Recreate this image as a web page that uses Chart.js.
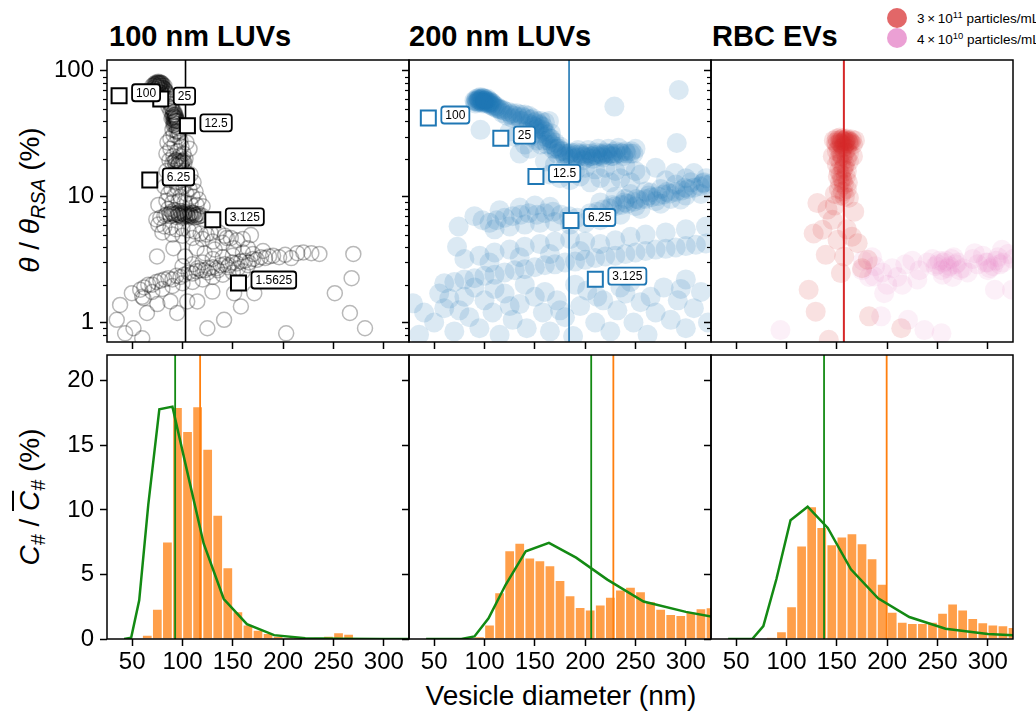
<!DOCTYPE html>
<html>
<head>
<meta charset="utf-8">
<title>Vesicle coverage and size distributions</title>
<script src="https://cdn.jsdelivr.net/npm/chart.js@4.4.1/dist/chart.umd.min.js"></script>
<style>
  body { margin: 0; background: #fff; }
  #fig { position: relative; width: 1036px; height: 712px; overflow: hidden; background: #fff;
         font-family: "Liberation Sans", Arial, Helvetica, sans-serif; color: #000; }
  #fig canvas { position: absolute; }
  .title { position: absolute; top: 22px; font-size: 29px; line-height: 29px; font-weight: bold; white-space: nowrap; }
  .ylab { position: absolute; font-size: 28px; line-height: 28px; white-space: nowrap;
          transform: translate(-50%, -50%) rotate(-90deg); }
  .ylab sub { font-size: 70%; position: relative; top: 0.3em; vertical-align: baseline; }
  #xlab { position: absolute; left: 561px; top: 682px; transform: translateX(-50%);
          font-size: 28px; line-height: 28px; white-space: nowrap; }
  .dot { position: absolute; width: 20px; height: 20px; border-radius: 50%; }
  .legtext { position: absolute; left: 917px; font-size: 13.5px; line-height: 14px; white-space: nowrap; }
  .legtext sup { font-size: 70%; position: relative; top: -0.55em; vertical-align: baseline; }
</style>
</head>
<body>
<div id="fig">
  <div class="title" style="left:109px">100 nm LUVs</div>
  <div class="title" style="left:409px">200 nm LUVs</div>
  <div class="title" style="left:712px">RBC EVs</div>

  <div class="ylab" style="left:31px; top:200px"><i>θ</i> / <i>θ</i><sub><i>RSA</i></sub> (%)</div>
  <div class="ylab" style="left:31px; top:497px"><i>C</i><sub><i>#</i></sub> / <i style="text-decoration:overline">C</i><sub><i>#</i></sub> (%)</div>
  <div id="xlab">Vesicle diameter (nm)</div>

  <div class="dot" style="left:887px; top:8px; background:rgba(214,39,40,0.7)"></div>
  <div class="dot" style="left:887px; top:28px; background:rgba(227,119,194,0.7)"></div>
  <div class="legtext" style="top:12px">3&thinsp;×&thinsp;10<sup>11</sup> particles/mL</div>
  <div class="legtext" style="top:33px">4&thinsp;×&thinsp;10<sup>10</sup> particles/mL</div>
</div>

<script>
const FONT = '"Liberation Sans", Arial, Helvetica, sans-serif';

// axes
const xMin = 25, xMax = 325;
const xTicks = [50, 100, 150, 200, 250, 300];
const coverMin = 0.7, coverMax = 122;
const coverTicks = [1, 10, 100];
const coverMinor = [0.8, 0.9, 2, 3, 4, 5, 6, 7, 8, 9, 20, 30, 40, 50, 60, 70, 80, 90];
const countMin = 0, countMax = 22;
const countTicks = [0, 5, 10, 15, 20];

// coverage (top row): [diameter nm, theta/theta_RSA %]
const luv100Pts = [
  [70,76],[72,79],[74,81],[76,82],[78,81],[80,79],[82,76],[71,73],[73,75],[75,77],[77,78],[79,76],[81,73],
  [74,72],[76,74],[78,73],[80,70],[83,70],[76,69],[79,67],[84,66],[81,64],[86,63],[73,78],[75,80],[77,80],[79,80],
  [72,77],[74,79],[76,80],[78,79],[80,77],[75,75],[77,76],[79,74],[73,71],[78,71],[82,72],[84,68],[86,65],
  [85,60],[87,57],[89,54],[86,52],[90,50],[88,48],[92,47],[90,45],[93,43],[89,42],[94,41],[91,39],[95,38],
  [92,37],[96,35],[90,34],[94,33],[97,32],[91,31],[95,30],[88,29],[98,28],[91,44],[93,45],[92,42],[94,40],[93,38],
  [92,43],[91,41],[93,40],[90,43],[88,60],[87,55],[89,51],[91,47],[92,45],[93,44],[94,42],[95,40],[92,40],
  [91,37],[94,36],[96,33],
  [85,27],[92,26],[99,25],[104,27],[88,24],[95,23],[101,22],[107,24],[84,22],[91,21],[97,21],[103,20],
  [87,19.5],[94,19.5],[100,19],[90,18.5],[96,18],[93,18],[98,19],[102,18.5],[95,17.5],[99,17.5],[92,19],
  [93,19.5],[96,19],[99,18.5],[101,19.5],[97,18.5],
  [84,16],[90,15],[96,15.5],[102,16],[108,15],[87,13.5],[93,13],[99,13.5],[105,14],[111,13],[82,12],[89,11.5],
  [95,11.8],[101,12],[107,11.5],[113,11],[86,10.5],[92,10.2],[98,10],[104,10.5],[110,10],[116,9.5],[84,9.3],
  [90,9],[96,9.2],[102,9],[108,8.8],[114,8.6],[120,8.4],[76,8.6],
  [74,6.6],[78,6.8],[82,7],[86,8],[89,7.6],[92,7.8],[95,7.4],[98,7.7],[101,7.3],[104,7.6],[107,7.2],[110,7.5],
  [113,7.1],[116,7.3],[88,7],[94,6.9],[100,6.8],[106,6.9],[112,6.8],[91,7.2],[97,7.1],[103,7],[109,7],[115,6.9],
  [119,7.1],[96,7.5],[102,7.2],[99,7],[105,7.3],[108,7.4],[111,7.2],
  [90,7.4],[93,7.3],[96,7.2],[99,7.4],[102,7.5],[105,7.1],[108,7.1],[111,7.4],[114,7.2],[117,7.0],[87,7.3],[84,7.2],
  [76,6],[82,5.8],[88,5.7],[94,5.5],[100,5.6],[106,5.4],[112,5.3],[118,5.1],[124,5],[128,5.15],[136,5.2],
  [142,4.9],[148,4.7],[154,4.5],[80,5.2],[90,5],[100,4.9],[110,4.7],[120,4.6],[130,4.4],[140,4.3],[160,4.6],
  [168,4.95],[144,4.7],[151,3.9],[122,3.55],[74.7,3.35],[91,3.9],[102.6,3.35],[114,3.9],[132,3.8],[165,3.9],
  [58,1.82],[62,1.9],[66,2.0],[70,2.0],[74,2.1],[78,2.15],[82,2.2],[86,2.25],[90,2.2],[94,2.35],[98,2.3],
  [102,2.4],[106,2.5],[110,2.45],[114,2.55],[118,2.6],[122,2.6],[126,2.7],[130,2.75],[134,2.7],[138,2.85],
  [142,2.9],[146,2.85],[150,3.0],[154,2.95],[158,3.05],[162,3.1],[166,3.0],[170,3.2],[174,3.15],[178,3.3],
  [182,3.25],[186,3.35],[190,3.4],[196,3.3],[202,3.45],[208,3.25],[214,3.56],[220,3.6],[228,3.56],[236,3.51],
  [60,1.6],[70,1.75],[80,1.85],[90,1.95],[100,2.05],[110,2.1],[120,2.2],[130,2.3],[140,2.4],[150,2.5],[160,2.55],
  [100,2.8],[110,2.9],[120,3.0],[130,3.2],[140,3.3],[150,3.4],[160,3.6],[170,3.5],[180,3.7],
  [115,2.7],[125,2.5],[135,2.6],[145,2.75],[155,2.7],[165,2.85],
  [38,1.38],[34.7,1.05],[43,0.82],[51.3,0.9],[64.7,1.19],[49.7,1.71],[61.3,1.56],[94.7,1.19],[88,1.47],
  [104.7,1.47],[114.7,1.47],[124.7,0.9],[129.7,1.76],[141.3,1.05],[158,1.34],[151.3,1.71],[171.3,1.71],
  [203,0.82],[251.3,1.71],[268,2.25],[269.7,3.51],[266.3,1.19],[281.3,0.9],[75,1.4],[60,0.75]
];

const luv200Pts = [
  [90,58],[92,60],[94,61],[96,62],[98,61],[100,60],[102,59],[104,58],[106,57],[91,55],[93,56],[95,57],[97,56],
  [99,55],[101,56],[103,55],[105,54],[107,53],[109,52],[111,51],[95,59],[100,58],[97,59],[102,57],[108,55],[113,50],
  [92,58],[94,59],[96,58],[98,57],[100,56],[93,57],[97,60],[99,58],[104,56],[106,55],
  [91,57],[95,60],[99,61],[103,60],[101,58],[105,56],[107,56],[110,53],[112,52],[115,50],[118,49],
  [116,49],[120,48],[124,47],[128,46],[132,46],[136,45],[140,45],[144,44],[148,42],[152,40],[156,40],[160,39],
  [164,40],[118,46],[122,44],[128,42],[136,40],[144,38],[150,36],[158,36],[126,45],[134,43],[142,42],[154,38],
  [130,44],[138,43],[146,41],[150,39],[155,37],
  [150,34],[155,32],[160,30],[158,28],[165,29],[162,26],[170,27],[168,24],[175,25],[172,22],[178,23],[182,22],
  [140,33],[146,30],[152,28],[160,33],[166,32],[156,26],[163,28],[167,26],[171,24],[176,23],
  [158,34],[162,31],[166,29],[170,25],[174,24],[178,22],[148,37],[153,35],
  [180,21],[185,22],[190,21.5],[195,22],[200,21],[205,22],[210,21.5],[215,22],[220,22.5],[225,22],[230,23],
  [235,22.5],[240,23],[245,22],[188,20],[198,19.5],[208,20],[218,20.5],[228,21],[238,21],[250,24],[193,23.5],
  [203,23.5],[213,24],[223,24],[233,24.5],[183,21],[187,21],[192,20.5],[197,21],[202,20.5],[207,21],[212,21],
  [217,21.5],[222,21.5],[227,22],[186,22.5],[191,22.5],[196,21.5],[201,22],[206,21],[211,22.5],[216,21],
  [221,22],[226,21],[231,22],[236,22],[241,22],[246,23],[248,22],
  [160,19],[170,18],[180,17],[190,16],[200,17],[210,16.5],[220,17],[230,16],[240,17.5],[250,16],[165,15],
  [175,14],[185,13.5],[195,14.5],[205,13],[215,14],[225,13],[235,14],[245,13],[255,15],[135,22],[140,26],
  [145,24],[130,30],[125,33],[289,15.4],[308,15.4],[270,17],[280,13.5],[300,14],[318,13],
  [205,7.4],[212,7.6],[218,7.9],[224,8.1],[230,8.4],[236,8.6],[242,8.8],[248,9.1],[254,9.4],[260,9.6],[266,9.9],
  [272,10.1],[278,10.4],[284,10.6],[290,10.9],[296,11.2],[302,11.5],[308,11.8],[314,12.1],[320,12.4],[326,12.8],
  [215,9],[230,10],[245,10.5],[260,11],[275,11.5],[290,12.5],[305,13],[320,14],[215,6.5],[235,7.2],[255,8],
  [275,8.8],[295,9.5],[315,10.5],[250,8.4],[270,9.2],[285,9.6],[300,10.2],[240,9.6],[265,10.8],
  [227,8.6],[239,9.0],[251,9.6],[263,10.2],[281,10.9],[299,11.8],[317,12.8],
  [105,6.2],[112,6.5],[120,6.8],[128,7],[136,7.2],[144,7.4],[152,7.2],[160,7.4],[168,7.6],[176,7.2],[184,7.0],
  [192,6.8],[110,5.5],[125,5.8],[140,6],[155,6.2],[170,6.3],[185,6],[115,7.8],[135,8.2],[150,8.5],[165,8.3],
  [74.3,5.8],[72.7,4.0],[96,34],[90,7],[98,6.5],[200,6.2],
  [60,2.05],[70,2.1],[80,2.2],[90,2.25],[100,2.35],[110,2.4],[120,2.5],[130,2.6],[140,2.65],[150,2.75],
  [160,2.85],[170,2.9],[180,3.0],[190,3.05],[200,3.15],[210,3.25],[220,3.35],[230,3.4],[240,3.5],[250,3.6],
  [260,3.7],[270,3.8],[280,3.85],[290,3.95],[300,4.05],[310,4.15],[320,4.25],
  [80,3.2],[95,3.4],[110,3.6],[125,3.8],[140,4.0],[155,4.2],[170,4.4],[185,4.6],[200,4.4],[215,4.2],[230,4.5],
  [245,4.8],[260,5],[280,5.2],[300,5.5],[320,5.8],[105,3.0],[135,3.3],[165,3.5],[195,3.7],
  [29,1.42],[35,0.8],[50,1.0],[60,1.3],[70,0.85],[80,1.6],[85,1.1],[95,0.9],[100,1.5],[108,1.2],[115,0.8],
  [120,1.7],[128,1.05],[135,1.4],[142,0.9],[150,1.6],[158,1.2],[165,0.85],[172,1.5],[180,1.1],[188,0.78],
  [195,1.35],[202,1.8],[210,1.0],[218,1.5],[225,0.85],[232,1.25],[240,1.7],[248,1.0],[255,1.45],[262,0.8],
  [270,1.2],[278,1.9],[285,1.05],[292,1.5],[300,0.9],[308,1.3],[315,1.75],[322,1.0],[90,1.9],[140,2.0],
  [190,2.0],[245,2.1],[300,2.2],[40,1.2],[55,1.7],[65,1.55],[75,1.25],[110,1.85],[125,1.35],[160,1.75],
  [175,1.25],[212,1.6],[235,1.9],[265,1.6],[295,1.85],
  [293,70.5],[229,52],[291,26.7]
];

const rbcHighPts = [
  [147,28],[150,29],[153,29.5],[156,29],[159,28.5],[162,28],[165,28.5],[168,28],[150,26],[154,26.5],[158,26],
  [162,26.5],[166,26],[152,24],[156,24.5],[160,24],[149,27],[164,27],[157,27.5],[161,27.5],[155,28],[159,27],[153,27],
  [151,28],[154,28.5],[158,28],[160,29],[163,27.5],[155,26],[157,25],
  [150,23],[154,22],[158,22.5],[162,22],[152,20],[156,20.5],[160,20],[150,18],[154,18.5],[158,18],[162,19],
  [152,16],[156,16.5],[160,16],[151,14.5],[155,14],[159,14.5],[153,13],[157,12.5],[161,13],[152,11.5],[156,11],
  [160,11.5],[154,10.2],[158,10],[148,10.5],[162,9.8],[146,21],[166,21],[155,21],[157,17],[154,15],[156,13.5],
  [130.7,8.9],[140.7,7.9],[167.3,7.6],[145.7,6.55],[135.7,5.46],[127,5.1],[150.7,4.54],[170.7,4.27],[139,3.45],
  [157.3,3.35],[180.7,3.15],[154,2.47],[122,1.82],[129,1.22],[182,1.12],[214,0.9],[160,5.5],[165,4.8],[148,8.5],
  [175,2.7],[142,0.73]
];

const rbcLowPts = [
  [175,2.6],[182,2.3],[187,2.32],[188,2.8],[195,2.5],[197,1.71],[200,2.0],[205,2.7],[210,2.3],[218,2.9],[225,3.1],
  [232,2.6],[240,3.0],[245,3.2],[248,2.8],[250,2.9],[252,3.1],[254,2.6],[256,3.0],[258,3.1],[260,2.7],[262,2.8],
  [264,3.2],[266,3.3],[268,2.9],[270,3.0],[272,2.6],[275,2.7],[280,2.5],[285,3.2],[287,3.56],[290,2.9],[295,3.4],
  [298,3.0],[300,3.0],[302,2.7],[305,2.8],[308,3.1],[310,3.3],[312,2.9],[314,3.78],[315,3.0],[320,3.5],[325,3.2],
  [255,2.4],[265,2.3],[300,2.6],[307,1.82],[324,1.82],[194,1.12],[220.7,1.05],[237,0.87],[254,0.82],[94,0.87],
  [176,3.1],[185,3.3],[215,2.0],[230,2.2]
];

// dilution markers
const luv100MarkX = [37, 78.4, 104.9, 67.5, 130.1, 155.6];
const luv100MarkY = [63.4, 59.7, 36.6, 13.6, 6.55, 2.06];
const luv100MarkLabels = ['100', '25', '12.5', '6.25', '3.125', '1.5625'];
const luv200MarkX = [44.2, 116.2, 151.1, 185.9, 210.1];
const luv200MarkY = [42.2, 29.2, 14.5, 6.47, 2.21];
const luv200MarkLabels = ['100', '25', '12.5', '6.25', '3.125'];

// mean diameters
const coverLineX = [103, 184, 157];
const fitLineX = [92.7, 206, 137.3];
const histLineX = [117.5, 228, 199.5];

// size distributions (bottom row)
const binCenters = [35, 45, 55, 65, 75, 85, 95, 105, 115, 125, 135, 145, 155, 165, 175, 185, 195, 205,
                    215, 225, 235, 245, 255, 265, 275, 285, 295, 305, 315, 325];
const luv100Hist = [0, 0, 0, 0.31, 2.31, 7.52, 17.95, 16.08, 18.0, 14.71, 9.6, 5.53, 2.13, 1.09, 0.7, 0.44,
                    0.23, 0.1, 0.05, 0.03, 0.1, 0.23, 0.5, 0.39, 0, 0, 0, 0, 0, 0];
const luv200Hist = [0, 0, 0, 0, 0, 0, 0.18, 1.09, 3.6, 6.85, 7.44, 6.28, 6.07, 5.68, 4.54, 3.37, 2.46, 2.26,
                    2.65, 3.24, 3.81, 4.02, 3.68, 2.9, 2.31, 1.92, 1.84, 2.08, 2.36, 2.44];
const rbcHist = [0, 0, 0, 0, 0, 0.1, 0.57, 2.52, 7.21, 10.25, 8.66, 7.32, 7.91, 8.17, 7.39, 6.23, 4.25, 2.08,
                 1.32, 1.22, 1.22, 1.32, 2.0, 2.72, 2.26, 1.61, 1.27, 1.09, 1.04, 0.91];

const fitX = [42, 49, 57, 66, 77, 90, 104, 121, 141, 164, 191, 222, 258, 300, 349];
const luv100Fit = [0, 0.1, 3.0, 10.4, 17.8, 18.0, 13.2, 7.4, 3.1, 1.15, 0.3, 0.06, 0.01, 0, 0];
const luv200Fit = [0, 0, 0, 0, 0, 0.2, 1.6, 4.2, 6.8, 7.45, 6.3, 4.6, 2.9, 2.1, 1.4];
const rbcFit = [0, 0, 0, 0, 1.0, 4.65, 9.2, 10.25, 8.6, 5.4, 3.15, 1.7, 0.8, 0.38, 0.2];

const BLACK = '#000000';
const BLUE = '#1f77b4';
const RED = '#d62728';
const GREEN = '#138a13';
const ORANGE = '#ff7f0e';
const BAR = 'rgba(255,127,14,0.75)';

// panel geometry
const panelLeft = [107, 409, 711];
const panelW = 302;
const axisW = 75;
const padTop = 4, padRight = 6;

const toXY = (pts) => pts.map(([x, y]) => ({ x, y }));
const zip = (xs, ys) => xs.map((x, i) => ({ x, y: ys[i] }));

const fig = document.getElementById('fig');

function addCanvas(col, top, h, axisH) {
  const c = document.createElement('canvas');
  c.width = axisW + panelW + padRight;
  c.height = padTop + h + axisH;
  c.style.left = (panelLeft[col] - axisW) + 'px';
  c.style.top = (top - padTop) + 'px';
  fig.appendChild(c);
  return c.getContext('2d');
}

function roundRect(ctx, x, y, w, h, r) {
  ctx.beginPath();
  ctx.moveTo(x + r, y);
  ctx.arcTo(x + w, y, x + w, y + h, r);
  ctx.arcTo(x + w, y + h, x, y + h, r);
  ctx.arcTo(x, y + h, x, y, r);
  ctx.arcTo(x, y, x + w, y, r);
  ctx.closePath();
}

// box frame round the plot area
const framePlugin = {
  id: 'frame',
  afterDraw(chart) {
    const { ctx, chartArea: a } = chart;
    ctx.save();
    ctx.lineWidth = 1.5;
    ctx.strokeStyle = '#000';
    ctx.strokeRect(a.left, a.top, a.right - a.left, a.bottom - a.top);
    ctx.restore();
  }
};

// short unlabelled ticks on the log axis
const minorTicksPlugin = {
  id: 'minorTicks',
  afterDraw(chart) {
    const { ctx, chartArea: a } = chart;
    const y = chart.scales.y;
    ctx.save();
    ctx.lineWidth = 1.2;
    ctx.strokeStyle = '#000';
    coverMinor.forEach((v) => {
      const py = Math.round(y.getPixelForValue(v)) + 0.5;
      ctx.beginPath();
      ctx.moveTo(a.left, py);
      ctx.lineTo(a.left - 4, py);
      ctx.stroke();
    });
    ctx.restore();
  }
};

// boxed text next to each dilution marker
const boxLabelPlugin = {
  id: 'boxLabels',
  afterDatasetsDraw(chart) {
    const ctx = chart.ctx;
    chart.data.datasets.forEach((ds, i) => {
      if (!ds.boxLabels) return;
      const meta = chart.getDatasetMeta(i);
      ctx.save();
      ctx.font = '12px ' + FONT;
      ctx.textBaseline = 'middle';
      meta.data.forEach((pt, j) => {
        const text = ds.boxLabels[j];
        const w = ctx.measureText(text).width + 8;
        const h = 17;
        const x0 = pt.x + 13;
        const y0 = pt.y - 3 - h / 2;
        roundRect(ctx, x0, y0, w, h, 3);
        ctx.fillStyle = '#fff';
        ctx.fill();
        ctx.lineWidth = 1.8;
        ctx.strokeStyle = ds.borderColor;
        ctx.stroke();
        ctx.fillStyle = '#000';
        ctx.fillText(text, x0 + 4, y0 + h / 2 + 0.5);
      });
      ctx.restore();
    });
  }
};

const tickFont = { size: 24, family: FONT };

function gridOpts() {
  return { display: true, drawOnChartArea: false, drawTicks: true, tickLength: 7,
           tickColor: '#000', tickWidth: 1.5, offset: false };
}

function xScale(showLabels, axisH) {
  return {
    type: 'linear', min: xMin, max: xMax, offset: false,
    afterBuildTicks: (s) => { s.ticks = xTicks.map((v) => ({ value: v })); },
    afterFit: (s) => { s.height = axisH; s.paddingLeft = 0; s.paddingRight = 0; },
    grid: gridOpts(),
    border: { display: false },
    ticks: { display: showLabels, autoSkip: false, maxRotation: 0, padding: 2, color: '#000',
             font: tickFont, callback: (v) => String(v) }
  };
}

function yScale(type, min, max, ticks, showLabels) {
  return {
    type, min, max,
    afterBuildTicks: (s) => { s.ticks = ticks.map((v) => ({ value: v })); },
    afterFit: (s) => { s.width = axisW; s.paddingTop = 0; s.paddingBottom = 0; },
    grid: gridOpts(),
    border: { display: false },
    ticks: { display: showLabels, autoSkip: false, padding: 6, color: '#000',
             font: tickFont, callback: (v) => String(v) }
  };
}

function baseOptions(scales) {
  return {
    responsive: false,
    animation: false,
    events: [],
    devicePixelRatio: 1,
    layout: { autoPadding: false, padding: { top: padTop, right: padRight, left: 0, bottom: 0 } },
    plugins: { legend: { display: false }, tooltip: { enabled: false } },
    scales
  };
}

function vLine(x, y0, y1, color, width, order) {
  return { type: 'line', data: [{ x, y: y0 }, { x, y: y1 }], borderColor: color, borderWidth: width,
           pointRadius: 0, clip: 0, order };
}

function markers(xs, ys, labels, color) {
  return { type: 'scatter', data: zip(xs, ys), pointStyle: 'rect', pointRadius: 10.6,
           backgroundColor: '#fff', borderColor: color, borderWidth: 2, boxLabels: labels, clip: 0, order: 0 };
}

function hollowCircles(pts) {
  return { type: 'scatter', data: toXY(pts), pointStyle: 'circle', pointRadius: 7.5,
           backgroundColor: 'rgba(0,0,0,0)', borderColor: 'rgba(0,0,0,0.28)', borderWidth: 1.5,
           clip: 0, order: 3 };
}

function softCircles(pts, color, order) {
  return { type: 'scatter', data: toXY(pts), pointStyle: 'circle', pointRadius: 10,
           backgroundColor: color, borderWidth: 0, clip: 0, order };
}

// top row: surface coverage
const topDatasets = [
  [hollowCircles(luv100Pts), vLine(coverLineX[0], coverMin, coverMax, BLACK, 1.6, 1),
   markers(luv100MarkX, luv100MarkY, luv100MarkLabels, BLACK)],
  [softCircles(luv200Pts, 'rgba(31,119,180,0.16)', 3), vLine(coverLineX[1], coverMin, coverMax, BLUE, 1.6, 1),
   markers(luv200MarkX, luv200MarkY, luv200MarkLabels, BLUE)],
  [softCircles(rbcLowPts, 'rgba(227,119,194,0.11)', 4), softCircles(rbcHighPts, 'rgba(214,39,40,0.14)', 3),
   vLine(coverLineX[2], coverMin, coverMax, RED, 2, 1)]
];

topDatasets.forEach((datasets, col) => {
  const ctx = addCanvas(col, 60, 282, 10);
  new Chart(ctx, {
    type: 'scatter',
    data: { datasets },
    options: baseOptions({
      x: xScale(false, 10),
      y: yScale('logarithmic', coverMin, coverMax, coverTicks, col === 0)
    }),
    plugins: [minorTicksPlugin, boxLabelPlugin, framePlugin]
  });
});

// bottom row: number concentration histograms with fitted curves
const histSets = [luv100Hist, luv200Hist, rbcHist];
const fitSets = [luv100Fit, luv200Fit, rbcFit];

histSets.forEach((hist, col) => {
  const ctx = addCanvas(col, 355, 284, 44);
  new Chart(ctx, {
    type: 'bar',
    data: {
      datasets: [
        { type: 'line', data: zip(fitX, fitSets[col]), borderColor: GREEN, borderWidth: 2.5,
          pointRadius: 0, tension: 0, clip: 0, order: 0 },
        vLine(fitLineX[col], countMin, countMax, GREEN, 1.8, 1),
        vLine(histLineX[col], countMin, countMax, ORANGE, 1.8, 1),
        { type: 'bar', data: zip(binCenters, hist), backgroundColor: BAR, borderColor: '#fff',
          borderWidth: 1, borderSkipped: 'start', barPercentage: 1, categoryPercentage: 1, clip: 0, order: 2 }
      ]
    },
    options: baseOptions({
      x: xScale(true, 44),
      y: yScale('linear', countMin, countMax, countTicks, col === 0)
    }),
    plugins: [framePlugin]
  });
});
</script>
</body>
</html>
